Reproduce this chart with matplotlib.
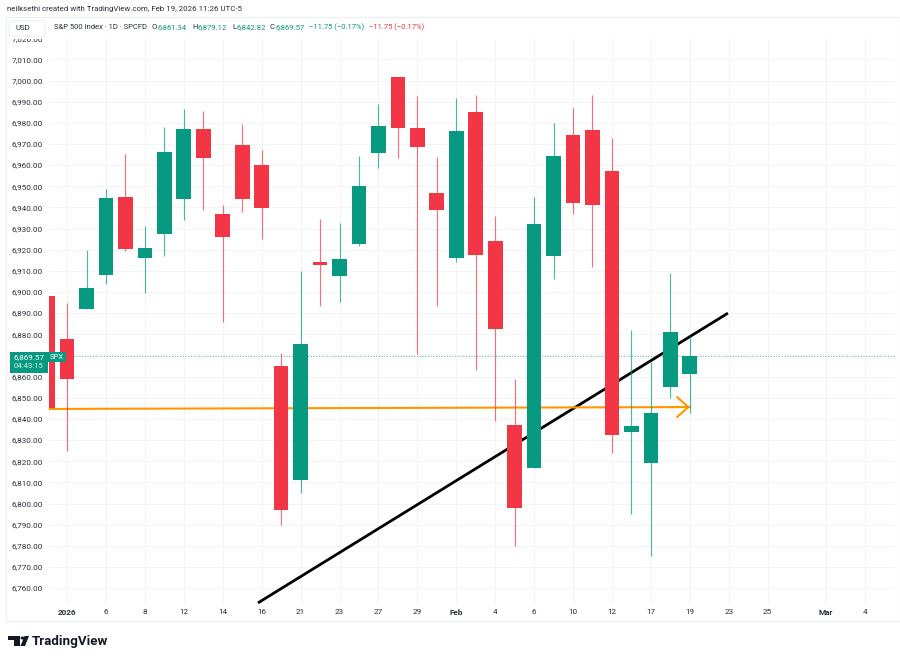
import matplotlib
matplotlib.use("Agg")
import matplotlib.pyplot as plt
from matplotlib.patches import Rectangle, Polygon, FancyBboxPatch

plt.rcParams['font.family'] = ['Roboto', 'DejaVu Sans']

# daily candles
opens  = [6898, 6878, 6891.8, 6907.9, 6944.8, 6916, 6927.4, 6943.8, 6977.2, 6937, 6969.4, 6960.2,
          6865, 6811, 6914.3, 6907.4, 6922.8, 6965.6, 7001.8, 6977.5, 6947, 6916, 6985, 6924,
          6837, 6817, 6917, 6974, 6976.6, 6957, 6834, 6819, 6855, 6861.34]
closes = [6845, 6859, 6901.7, 6944.6, 6920.5, 6921, 6966, 6977.2, 6963.5, 6926, 6944.1, 6939.6,
          6797, 6875.4, 6912.8, 6915.5, 6950, 6978.5, 6977.7, 6968.6, 6938.6, 6976, 6917.5, 6882.5,
          6798, 6932, 6964.4, 6942, 6941, 6832.5, 6836.5, 6843, 6881, 6869.57]
highs  = [6900, 6895, 6919.9, 6948.5, 6965.2, 6931.2, 6978.2, 6986.4, 6985.7, 6941, 6979.3, 6967.1,
          6871, 6910, 6934.5, 6932.8, 6964.4, 6988.9, 7001.8, 6992.7, 6963.7, 6991.7, 6993, 6936,
          6859, 6945, 6980, 6987, 6993, 6973, 6882, 6867, 6909, 6879.12]
lows   = [6840, 6825, 6891.8, 6903.8, 6919.4, 6899.4, 6917.2, 6934, 6938.8, 6885.7, 6938, 6924.9,
          6790, 6805, 6893.5, 6895.3, 6921.9, 6958.8, 6963.4, 6870.7, 6893.5, 6914, 6863, 6839,
          6780, 6817, 6906, 6937, 6912, 6824, 6795, 6775, 6850, 6842.82]

y_ticks = list(range(6760, 7030, 10))
x_tick_pos = [1, 3, 5, 7, 9, 11, 13, 15, 17, 19, 21, 23, 25, 27, 29, 31, 33, 35, 37, 40, 42]
x_tick_lab = ['2026', '6', '8', '12', '14', '16', '21', '23', '27', '29', 'Feb',
              '4', '6', '10', '12', '17', '19', '23', '25', 'Mar', '4']
last_price = 6869.57
trend_x = [10.81, 34.96]
trend_y = [6753, 6890]
level_x = [0.04, 33]
level_y = [6844.7, 6845.6]

GREEN = '#089981'
RED = '#F23645'
ORANGE = '#FF9800'
TXT = '#2a2e39'
W, H = 900, 660

fig = plt.figure(figsize=(9, 6.6), dpi=100, facecolor='white')
L, R, T, B = 48.5, 895, 17, 604
ax = fig.add_axes([L / W, 1 - B / H, (R - L) / W, (B - T) / H])
x0, dx = 47.6, 19.46
ax.set_xlim((L - x0) / dx, (R - x0) / dx)
p0, pp = 80.5, 2.115
ax.set_ylim(7000 - (B - p0) / pp, 7000 + (p0 - T) / pp)
for s in ax.spines.values():
    s.set_visible(False)

ax.set_yticks(y_ticks)
ax.set_yticklabels(['' if v == 6870 else f'{v:,.2f}' for v in y_ticks], fontsize=5.9, color=TXT)
ax.set_xticks(x_tick_pos)
ax.set_xticklabels(x_tick_lab, fontsize=5.9, color=TXT)
ax.tick_params(length=0, axis='y', pad=3.9)
ax.tick_params(length=0, axis='x', pad=3.6)
for k in (0, 10, 19):
    ax.xaxis.get_majorticklabels()[k].set_fontweight('bold')
ax.grid(True, color='#f3f4f6', lw=0.8)
ax.set_axisbelow(True)

# the drawn lines run behind the candles
ax.axhline(last_price, color=GREEN, lw=0.7, ls=(0, (1, 1.8)), alpha=0.7, zorder=1)
ax.plot(trend_x, trend_y, color='black', lw=2.0, zorder=1.5, solid_capstyle='butt')
ax.plot(level_x, level_y, color=ORANGE, lw=1.5, zorder=1.6)
ax.annotate('', xy=(level_x[1], level_y[1]), xytext=(level_x[1] - 1, level_y[1]),
            arrowprops=dict(arrowstyle='->,head_length=0.8,head_width=0.72', color=ORANGE,
                            lw=1.5, shrinkA=0, shrinkB=0), zorder=1.6)

for i, (o, c, h, l) in enumerate(zip(opens, closes, highs, lows)):
    col = GREEN if c >= o else RED
    ax.vlines(i, l, h, color=col, lw=0.85, alpha=0.7, zorder=2)
    ax.bar(i, abs(c - o), bottom=min(o, c), width=0.755, color=col, lw=0, zorder=3)


def fx(px):
    return px / W


def fy(py):
    return 1 - py / H


# header mask, frame and header text
fig.add_artist(Rectangle((0, fy(38.5)), 1, 38.5 / H, transform=fig.transFigure, fc='white', ec='none', zorder=5))
fig.add_artist(Rectangle((fx(6), fy(621)), 894 / W, 604 / H, transform=fig.transFigure,
                         fc='none', ec='#eceef2', lw=0.8, zorder=6))
fig.add_artist(FancyBboxPatch((fx(9), fy(36)), 36 / W, 15 / H, transform=fig.transFigure,
                              boxstyle='round,pad=0,rounding_size=0.002', fc='white', ec='#eef0f3', lw=0.8, zorder=6))


def t(px, py, s, color=TXT, size=5.5, ha='left', weight='normal'):
    fig.text(fx(px), fy(py), s, color=color, fontsize=size, ha=ha, va='center', weight=weight, zorder=7)


t(7, 9.5, 'neilksethi created with TradingView.com, Feb 19, 2026 11:26 UTC-5', size=5.7)
t(15, 28.5, 'USD', size=5.7)
t(54, 27, 'S&P 500 Index · 1D · SPCFD')
for lx, vx, letter, val in [(152, 157, 'O', '6,861.34'), (192, 197, 'H', '6,879.12'),
                            (232, 236, 'L', '6,842.82'), (270, 275, 'C', '6,869.57')]:
    t(lx, 27, letter)
    t(vx, 27, val, color=GREEN)
t(309, 27, '−11.75 (−0.17%)', color=GREEN)
t(369, 27, '−11.75 (−0.17%)', color=RED)

# last-price tag
fig.add_artist(Rectangle((fx(10), fy(372.5)), 38 / W, 20.5 / H, transform=fig.transFigure, fc=GREEN, ec='none', zorder=6))
fig.add_artist(Rectangle((fx(48), fy(362.5)), 18 / W, 10.5 / H, transform=fig.transFigure, fc=GREEN, ec='none', zorder=6))
t(29, 357, '6,869.57', color='white', ha='center', size=5.9)
t(29, 366.5, '04:43:15', color='#d5efe9', ha='center', size=5.6)
t(57, 357, 'SPX', color='white', ha='center', size=5.5)

# logo
logo = [
    [(8, 636), (20, 636), (20, 646), (14, 646), (14, 640), (8, 640)],
    [(20.5, 646), (24.5, 636), (29, 636), (25, 646)],
]
for pts in logo:
    fig.add_artist(Polygon([(fx(a), fy(b)) for a, b in pts], closed=True,
                           transform=fig.transFigure, fc='#131722', ec='none', zorder=7))
fig.add_artist(plt.Circle((fx(22.5), fy(638)), 2 / W, transform=fig.transFigure, fc='#131722', ec='none', zorder=7))
t(32, 641, 'TradingView', color='#131722', size=9.6, weight='bold')

fig.savefig('out.png', dpi=100)
